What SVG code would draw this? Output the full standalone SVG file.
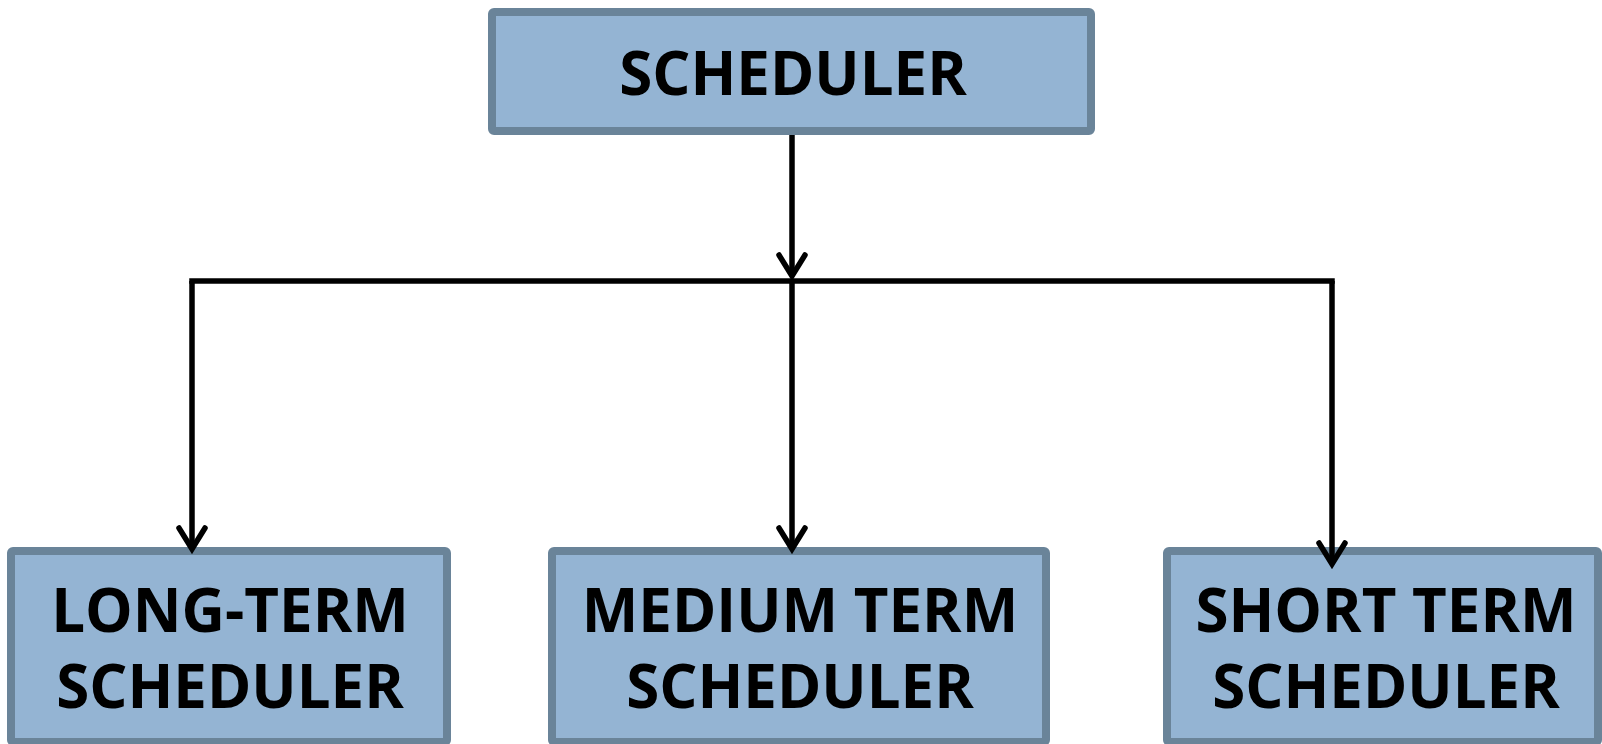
<svg xmlns="http://www.w3.org/2000/svg" width="1602" height="744" viewBox="0 0 1602 744">
<style>
.box{fill:#94b4d3;stroke:#6a8499;stroke-width:8}
.lbl{font-family:"Open Sans","Liberation Sans",sans-serif;font-weight:700;font-size:60px;fill:#000;text-anchor:middle}
.wire{fill:none;stroke:#000;stroke-width:5.5}
</style>
<defs>
<marker id="arr" markerUnits="userSpaceOnUse" markerWidth="40" markerHeight="40" viewBox="-30 -20 40 40" refX="0" refY="0" orient="auto" overflow="visible">
<path d="M-21,-13 L0,0 L-21,13" fill="none" stroke="#000" stroke-width="5.5" stroke-linecap="round" stroke-linejoin="miter"/>
</marker>
</defs>
<rect width="1602" height="744" fill="#fff"/>
<g id="scheduler">
<rect class="box" x="492" y="12" width="599" height="119" rx="2"/>
<text class="lbl" x="793" y="95">SCHEDULER</text>
</g>
<g id="long-term">
<rect class="box" x="11" y="551" width="436" height="191" rx="2"/>
<text class="lbl" x="230" y="632">LONG-TERM</text>
<text class="lbl" x="230" y="708">SCHEDULER</text>
</g>
<g id="medium-term">
<rect class="box" x="552" y="551" width="494" height="191" rx="2"/>
<text class="lbl" x="800" y="632">MEDIUM TERM</text>
<text class="lbl" x="800" y="708">SCHEDULER</text>
</g>
<g id="short-term">
<rect class="box" x="1167" y="551" width="431" height="191" rx="2"/>
<text class="lbl" x="1386" y="632">SHORT TERM</text>
<text class="lbl" x="1386" y="708">SCHEDULER</text>
</g>
<g id="connectors">
<path class="wire" d="M792,135 V276" marker-end="url(#arr)"/>
<path class="wire" d="M192,281 H1332" stroke-linecap="square"/>
<path class="wire" d="M192,281 V549" marker-end="url(#arr)"/>
<path class="wire" d="M792,281 V549" marker-end="url(#arr)"/>
<path class="wire" d="M1332,281 V564" marker-end="url(#arr)"/>
</g>
</svg>
